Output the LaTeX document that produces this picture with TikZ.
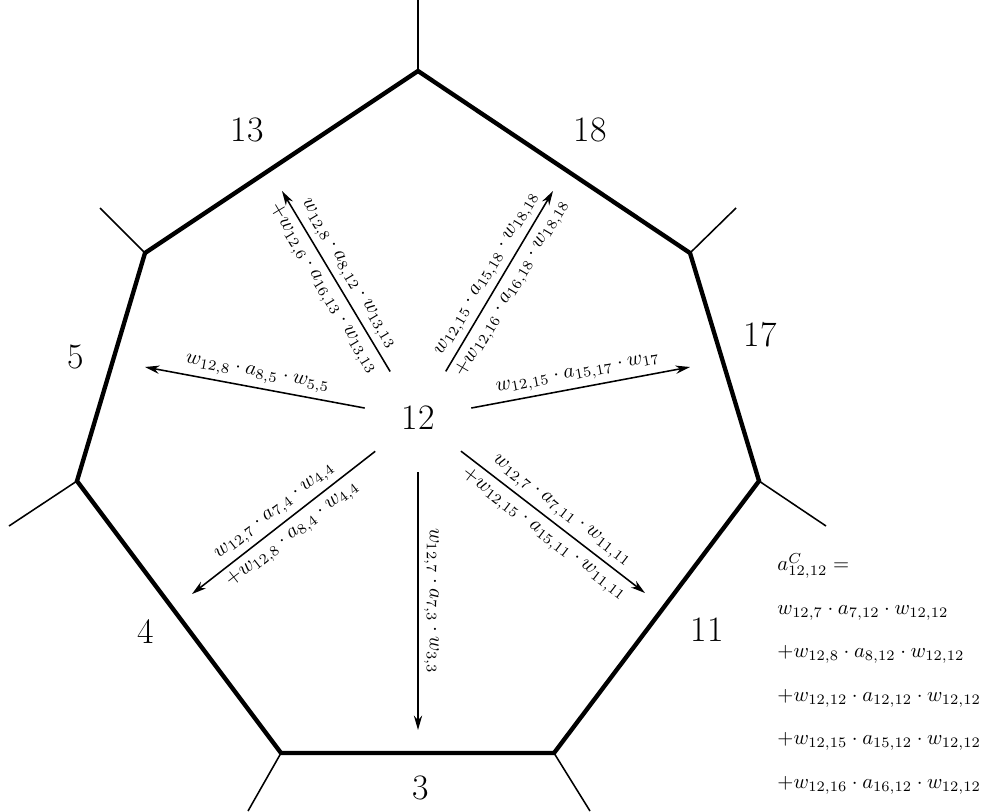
\documentclass[tikz,border=0pt]{standalone}
\usetikzlibrary{arrows.meta}

\begin{document}
\begin{tikzpicture}[x=0.483pt,y=-0.483pt,
      wall/.style={line width=2.1pt},
      stub/.style={line width=0.75pt},
      flow/.style={-{Stealth[length=7pt,width=4pt]},line width=0.75pt},
      lbl/.style={sloped,inner sep=2.5pt},
      cell/.style={font=\LARGE}]
  \useasboundingbox (0,0) rectangle (981,811);
  % corners of cell 12 and the walls leaving them
  \coordinate (v1) at (418,71);  \coordinate (s1) at (418,0);
  \coordinate (v2) at (690,253); \coordinate (s2) at (736,208);
  \coordinate (v3) at (759,481); \coordinate (s3) at (826,526);
  \coordinate (v4) at (554,753); \coordinate (s4) at (590,811);
  \coordinate (v5) at (281,753); \coordinate (s5) at (248,811);
  \coordinate (v6) at (77,481);  \coordinate (s6) at (9,526);
  \coordinate (v7) at (145,253); \coordinate (s7) at (100,208);
  \draw[wall] (v1) -- (v2) -- (v3) -- (v4) -- (v5) -- (v6) -- (v7) -- cycle;
  \foreach \i in {1,...,7}
    \draw[stub] (v\i) -- (s\i);

  % neighbouring cells
  \node[circle,minimum size=52pt,cell] (c12) at (418,418) {12};
  \node[cell] (n13) at (247,130) {13};
  \node[cell] (n18) at (590,130) {18};
  \node[cell] (n5) at (76,357) {5};
  \node[cell] (n17) at (760,335) {17};
  \node[cell] (n4) at (146,632) {4};
  \node[cell] (n11) at (707,630) {11};
  \node[cell] (n3) at (421,788) {3};

  % arrow ends
  \coordinate (t13) at (282,191);
  \coordinate (t18) at (553,191);
  \coordinate (t5) at (145,367);
  \coordinate (t17) at (690,367);
  \coordinate (t4) at (192,594);
  \coordinate (t11) at (645,593);
  \coordinate (t3) at (418,730);

  \draw[flow] (c12) -- node[lbl,above] {$w_{12,8}\cdot a_{8,12}\cdot w_{13,13}$}
    node[lbl,below] {$+w_{12,6}\cdot a_{16,13}\cdot w_{13,13}$} (t13);
  \draw[flow] (c12) -- node[lbl,above] {$w_{12,15}\cdot a_{15,18}\cdot w_{18,18}$}
    node[lbl,below] {$+w_{12,16}\cdot a_{16,18}\cdot w_{18,18}$} (t18);
  \draw[flow] (c12) -- node[lbl,above] {$w_{12,8}\cdot a_{8,5}\cdot w_{5,5}$} (t5);
  \draw[flow] (c12) -- node[lbl,above] {$w_{12,15}\cdot a_{15,17}\cdot w_{17}$} (t17);
  \draw[flow] (c12) -- node[lbl,above] {$w_{12,7}\cdot a_{7,4}\cdot w_{4,4}$}
    node[lbl,below] {$+w_{12,8}\cdot a_{8,4}\cdot w_{4,4}$} (t4);
  \draw[flow] (c12) -- node[lbl,above] {$w_{12,7}\cdot a_{7,11}\cdot w_{11,11}$}
    node[lbl,below] {$+w_{12,15}\cdot a_{15,11}\cdot w_{11,11}$} (t11);
  \draw[flow] (c12) -- node[lbl,above] {$w_{12,7}\cdot a_{7,3}\cdot w_{3,3}$} (t3);

  % contribution back to cell 12
  \node[anchor=north west,align=left,inner sep=0pt] (sum) at (777,553)
    {$a^C_{12,12}=$\\[9pt]
     $w_{12,7}\cdot a_{7,12}\cdot w_{12,12}$\\[9pt]
     $+w_{12,8}\cdot a_{8,12}\cdot w_{12,12}$\\[9pt]
     $+w_{12,12}\cdot a_{12,12}\cdot w_{12,12}$\\[9pt]
     $+w_{12,15}\cdot a_{15,12}\cdot w_{12,12}$\\[9pt]
     $+w_{12,16}\cdot a_{16,12}\cdot w_{12,12}$};
\end{tikzpicture}
\end{document}
